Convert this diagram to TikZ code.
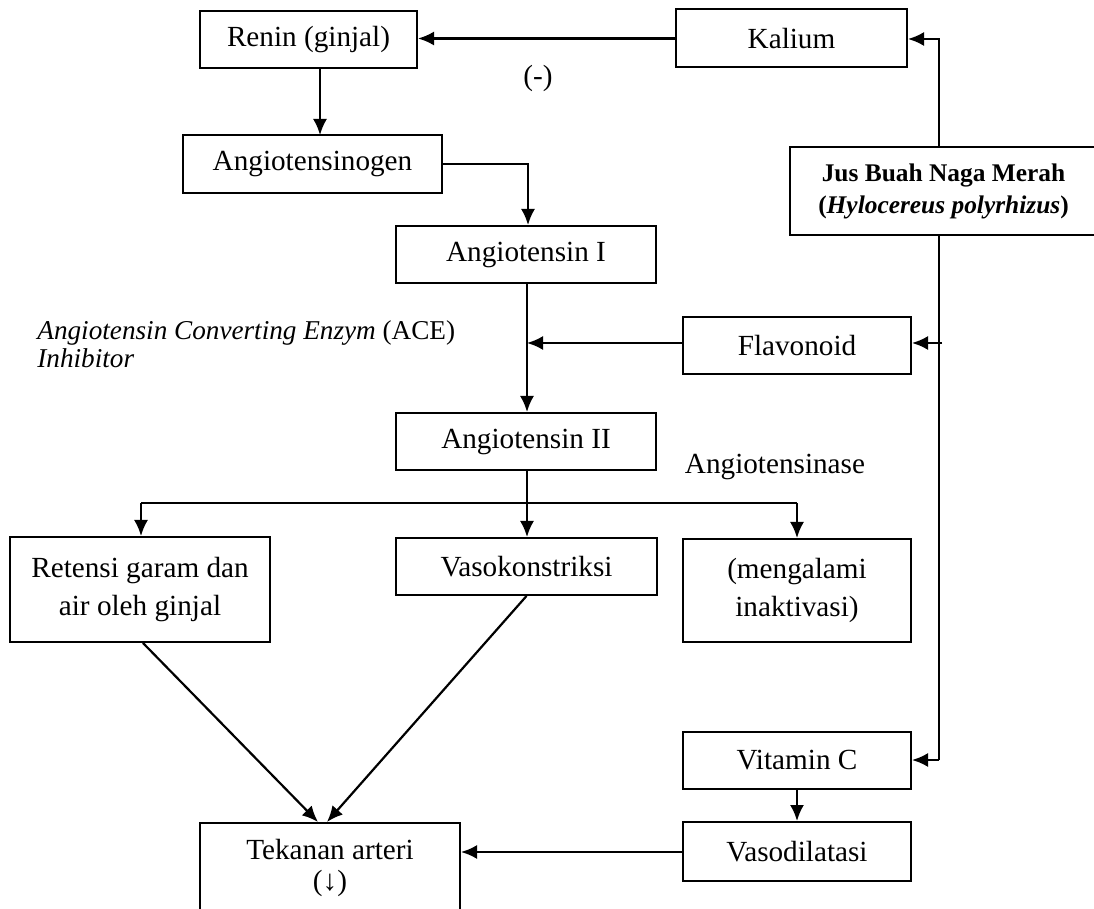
\documentclass[tikz,border=0pt]{standalone}
\usepackage{fontspec}
\setmainfont{Liberation Serif}
\usetikzlibrary{arrows.meta}
\tikzset{
  box/.style={draw, line width=1pt, inner sep=0pt, align=center, font=\fontsize{14.6}{19}\selectfont},
  arr/.style={line width=1.1pt, -{Latex[length=8pt,width=7pt]}},
  ln/.style={line width=1.1pt},
  lbl/.style={inner sep=0pt, font=\fontsize{14.6}{19}\selectfont}
}
\begin{document}
\begin{tikzpicture}[x=0.5pt,y=-0.5pt]
\useasboundingbox[fill=white] (0,0) rectangle (1094,909);
% boxes
\node[box, minimum width=108.5pt, minimum height=28.5pt] (renin) at (308.5,39.5) {Renin (ginjal)};
\node[box, minimum width=115.5pt, minimum height=29pt] (kalium) at (791.5,38.5) {Kalium};
\node[box, minimum width=153.5pt, minimum height=44pt, font=\fontsize{12.7}{16}\selectfont\bfseries] (jus) at (943.5,191) {Jus Buah Naga Merah\\(\textit{Hylocereus polyrhizus})};
\node[box, minimum width=129.5pt, minimum height=29pt] (agen) at (312.5,164) {Angiotensinogen};
\node[box, minimum width=130pt, minimum height=28.5pt] (ang1) at (526,254.5) {Angiotensin I};
\node[box, minimum width=114pt, minimum height=28.5pt] (flav) at (797,345.5) {Flavonoid};
\node[box, minimum width=130pt, minimum height=28.5pt] (ang2) at (526,441.5) {Angiotensin II};
\node[box, minimum width=130pt, minimum height=52.5pt] (ret) at (140,589.5) {Retensi garam dan\\air oleh ginjal};
\node[box, minimum width=130.5pt, minimum height=28.5pt] (vaso) at (526.5,566.5) {Vasokonstriksi};
\node[box, minimum width=114pt, minimum height=51.5pt] (inakt) at (797,590.5) {(mengalami\\inaktivasi)};
\node[box, minimum width=114pt, minimum height=28.5pt] (vitc) at (797,760.5) {Vitamin C};
\node[box, minimum width=114pt, minimum height=29.5pt] (vasod) at (797,851.5) {Vasodilatasi};
\node[box, minimum width=130pt, minimum height=45pt, font=\fontsize{14.6}{15.5}\selectfont] (tek) at (330,868) {Tekanan arteri\\(↓)};
% labels
\node[lbl] (minus) at (538,78) {(-)};
\node[lbl] (ase) at (775,467) {Angiotensinase};
\node[lbl, anchor=west, align=left, font=\fontsize{13.6}{14}\selectfont] (ace) at (37,344) {\textit{Angiotensin Converting Enzym} (ACE)\\\textit{Inhibitor}};
% coordinates
\coordinate (t1) at (939,39);
\coordinate (t2) at (939,760);
\coordinate (br) at (527,503);
\coordinate (ac) at (528,164);
% connectors
\draw[arr] (kalium.west) -- (kalium.west -| renin.east);
\draw[arr] (t1 |- jus.north) -- (t1) -- (t1 -| kalium.east);
\draw[ln] (t1 |- jus.south) -- (t2);
\draw[arr] (942,343) -- (flav.east |- 0,343);
\draw[arr] (t2) -- (t2 -| vitc.east);
\draw[arr] (320,68) -- (320,135);
\draw[arr] (agen.east |- ac) -- (ac) -- (ac |- ang1.north);
\draw[arr] (ang1.south -| br) -- (ang2.north -| br);
\draw[arr] (flav.west |- 0,343) -- (br |- 0,343);
\draw[ln] (ang2.south -| br) -- (br);
\draw[ln] (br -| 141,0) -- (br -| inakt.north);
\draw[arr] (br -| 141,0) -- (ret.north -| 141,0);
\draw[arr] (br) -- (br |- vaso.north);
\draw[arr] (br -| inakt.north) -- (inakt.north);
\draw[arr] ([xshift=1.5pt]ret.south) -- ([xshift=-6pt]tek.north);
\draw[arr] (vaso.south) -- ([xshift=-1.5pt]tek.north);
\draw[arr] (vitc.south) -- (vasod.north);
\draw[arr] (vasod.west |- 0,852) -- (tek.east |- 0,852);
\end{tikzpicture}
\end{document}
